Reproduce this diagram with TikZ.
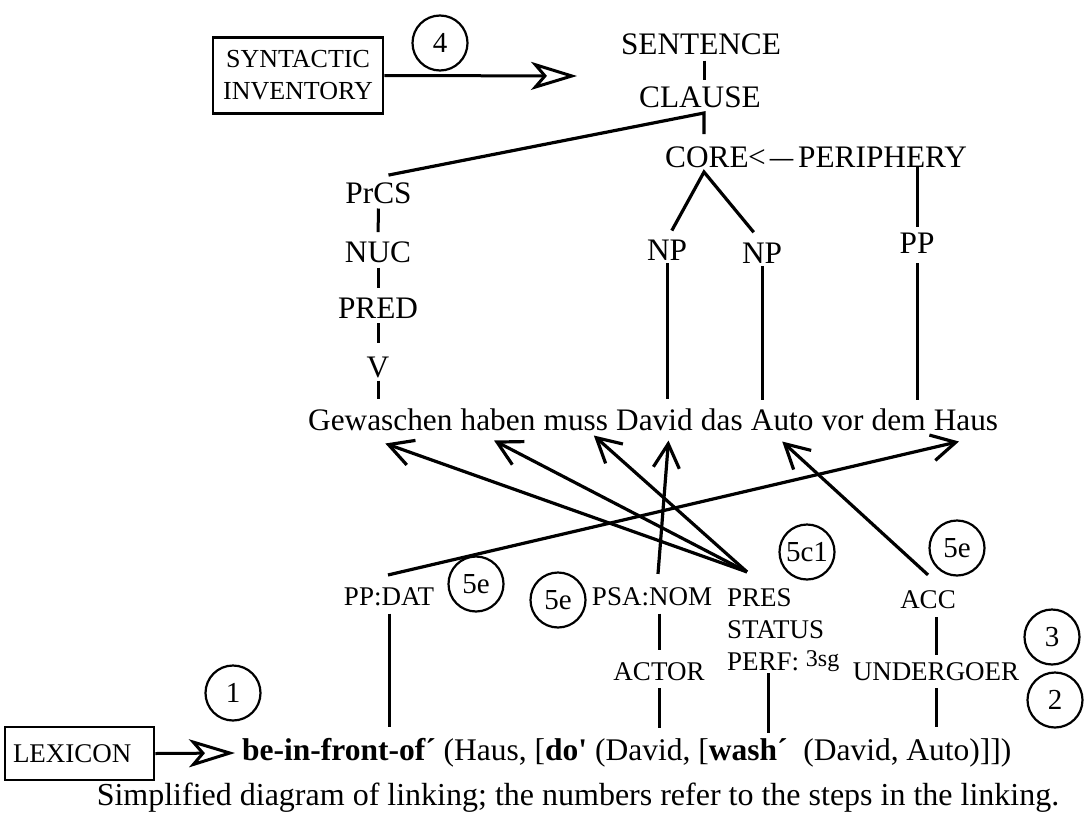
\documentclass[tikz,border=0pt]{standalone}
\usepackage{fontspec}
\setmainfont{Liberation Serif}
\usetikzlibrary{arrows.meta}
\begin{document}
\begin{tikzpicture}[x=1pt,y=-1pt,
  big/.style={inner sep=0pt, font=\fontsize{31.3}{37}\selectfont},
  small/.style={inner sep=0pt, font=\fontsize{27}{32}\selectfont},
  ln/.style={line width=3.2pt},
  tick/.style={line width=3pt},
  num/.style={circle, draw, line width=2.2pt, minimum size=55pt, inner sep=0pt, font=\fontsize{29}{34}\selectfont},
  sbox/.style={draw, line width=2.6pt},
  barb/.style={line width=3.2pt, -{Straight Barb[length=24pt,width=26pt]}},
  chev/.style={line width=3pt, -{Stealth[open,length=46pt,width=28pt,inset=12pt]}}]
\useasboundingbox (0,0) rectangle (1086,824);

% ---------- top part ----------
\node[sbox, inner sep=0pt, align=center, minimum width=170pt, minimum height=76pt,
      font=\fontsize{26}{32}\selectfont] (si) at (298,75.5) {SYNTACTIC\\INVENTORY};
\node[num] (c4) at (440,43) {4};
\coordinate (siTip) at (577,76);
\draw[chev] (si.east) -- (siTip);

\node[big, anchor=base] (sent) at (701,55) {SENTENCE};
\node[big, anchor=base] (clause) at (700,107) {CLAUSE};
\node[big, anchor=base west] (core) at (665,167) {CORE};
\node[big, anchor=base west] (lt) at (748,167) {<\hspace{4pt}\scalebox{0.75}[1]{—}};
\node[big, anchor=base west] (periph) at (798,167) {PERIPHERY};

\node[big, anchor=base] (prcs) at (378.5,203) {PrCS};
\node[big, anchor=base] (nuc) at (378,262) {NUC};
\node[big, anchor=base] (pred) at (378,318) {PRED};
\node[big, anchor=base] (v) at (378,377) {V};
\node[big, anchor=base] (np1) at (667,260) {NP};
\node[big, anchor=base] (np2) at (762,263) {NP};
\node[big, anchor=base] (pp) at (917,253) {PP};

% sentence words
\node[big, anchor=base west] (w1) at (308,430) {Gewaschen};
\node[big, anchor=base west] (w2) at ([xshift=7.83pt]w1.base east) {haben};
\node[big, anchor=base west] (w3) at ([xshift=7.83pt]w2.base east) {muss};
\node[big, anchor=base west] (w4) at ([xshift=7.83pt]w3.base east) {David};
\node[big, anchor=base west] (w5) at ([xshift=7.83pt]w4.base east) {das};
\node[big, anchor=base west] (w6) at ([xshift=7.83pt]w5.base east) {Auto};
\node[big, anchor=base west] (w7) at ([xshift=7.83pt]w6.base east) {vor};
\node[big, anchor=base west] (w8) at ([xshift=7.83pt]w7.base east) {dem};
\node[big, anchor=base west] (w9) at ([xshift=7.83pt]w8.base east) {Haus};

% tree connectors
\coordinate (cj) at (704,113);
\coordinate (apex) at (704,172);
\draw[tick, shorten <=5pt, shorten >=6pt] (sent.south -| cj) -- (clause.north -| cj);
\draw[ln, shorten >=12pt] ([shift={(10,-7)}]prcs.north) -- (cj) -- (cj |- core.north);
\draw[ln, shorten <=10pt, shorten >=13pt] (np1.north) -- (apex) -- (np2.north);
\draw[tick, shorten >=5pt] (periph.south -| pp.north) -- (pp.north);

\draw[tick, shorten <=5pt, shorten >=9pt] (prcs.south) -- (nuc.north);
\draw[tick, shorten <=5pt, shorten >=9pt] (nuc.south) -- (pred.north);
\draw[tick, shorten <=5pt, shorten >=13pt] (pred.south) -- (v.north);
\draw[tick, shorten <=3pt, shorten >=9pt] (v.south) -- (v.south |- w1.north);
\draw[tick, shorten <=3pt, shorten >=9pt] (np1.south) -- (np1.south |- w4.north);
\draw[tick, shorten <=3pt, shorten >=9pt] (np2.south) -- (np2.south |- w6.north);
\draw[tick, shorten <=10pt, shorten >=9pt] (pp.south) -- (pp.south |- w9.north);

% ---------- bottom part ----------
\node[small, anchor=base] (ppdat) at (389,605) {PP:DAT};
\node[small, anchor=base] (psa) at (652,605) {PSA:NOM};
\node[small, anchor=base west] (pres) at (727,606) {PRES};
\node[small, anchor=base west] (status) at (727,638) {STATUS};
\node[small, anchor=base west] (perf) at (727,670) {PERF: \raisebox{3.5pt}{\fontsize{24}{28}\selectfont 3sg}};
\node[small, anchor=base] (acc) at (928,608) {ACC};
\node[small, anchor=base] (actor) at (659,680) {ACTOR};
\node[small, anchor=base] (und) at (936,680) {UNDERGOER};

\node[num] (n5a) at (476,584) {5e};
\node[num] (n5b) at (558,600) {5e};
\node[num] (n5c) at (807,552) {5c1};
\node[num] (n5d) at (957,548) {5e};
\node[num] (n3) at (1052,637) {3};
\node[num] (n2) at (1055,700) {2};
\node[num] (n1) at (233,693) {1};

\node[anchor=base west, inner sep=0pt, font=\fontsize{31.5}{38}\selectfont] (formula) at (242,760)
  {\textbf{be-in-front-of´} (Haus, [\textbf{do\textquotesingle} (David, [\textbf{wash´}\ \ (David, Auto)]])};

\node[sbox, inner sep=0pt, inner xsep=8pt, text width=133pt, align=left, minimum height=53pt,
      font=\fontsize{27}{32}\selectfont] (lex) at (79.5,753.5) {LEXICON};
\coordinate (lexTip) at (235,753);
\draw[chev] (lex.east) -- (lexTip);

% linking arrows
\coordinate (presO) at ([shift={(20,-16)}]pres.north west);
\draw[barb] (presO) -- ([shift={(5,13)}]w1.south);
\draw[barb] (presO) -- ([shift={(-4,10)}]w2.south);
\draw[barb] (presO) -- ([shift={(18,5)}]w3.south);
\draw[barb] ([shift={(6,-13)}]psa.north) -- ([shift={(14,10)}]w4.south);
\draw[barb] ([shift={(-1,-12)}]ppdat.north) -- ([shift={(-7,11)}]w9.south);
\draw[barb] ([shift={(0,-15)}]acc.north) -- ([shift={(0,11)}]w6.south);

% ticks to the logical structure
\coordinate (pf) at ([xshift=41pt]perf.base west);
\draw[tick, shorten <=8pt, shorten >=11pt] (ppdat.south) -- (ppdat.south |- formula.north);
\draw[tick, shorten <=8pt, shorten >=12pt] (actor.north |- psa.south) -- (actor.north);
\draw[tick, shorten <=8pt, shorten >=10pt] (actor.south) -- (actor.south |- formula.north);
\draw[tick, shorten <=3pt, shorten >=5pt] (pf) -- (pf |- formula.north);
\draw[tick, shorten <=9pt, shorten >=7pt] (und.north |- acc.south) -- (und.north);
\draw[tick, shorten <=8pt, shorten >=11pt] (und.south) -- (und.south |- formula.north);

\node[anchor=base, inner sep=0pt, font=\fontsize{32}{38}\selectfont] (cap) at (578,805)
  {Simplified diagram of linking; the numbers refer to the steps in the linking.};
\end{tikzpicture}
\end{document}
